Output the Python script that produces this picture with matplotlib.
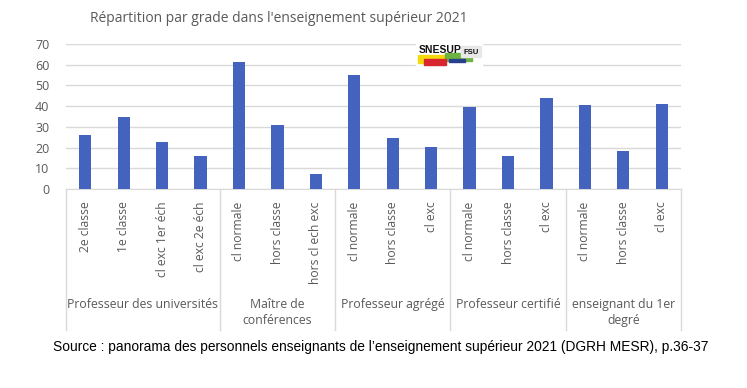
import matplotlib
matplotlib.use("Agg")
import matplotlib.pyplot as plt
import matplotlib.patches as patches
import matplotlib.transforms as mtransforms

# data
groups = ["Professeur des universités", "Maître de\nconférences", "Professeur agrégé",
          "Professeur certifié", "enseignant du 1er\ndegré"]
group_sizes = [4, 3, 3, 3, 3]
grades = ["2e classe", "1e classe", "cl exc 1er éch", "cl exc 2e éch",
          "cl normale", "hors classe", "hors cl ech exc",
          "cl normale", "hors classe", "cl exc",
          "cl normale", "hors classe", "cl exc",
          "cl normale", "hors classe", "cl exc"]
values = [26.1, 34.8, 22.7, 15.9,
          61.3, 30.9, 7.2,
          55.0, 24.6, 20.3,
          39.6, 15.9, 43.9,
          40.6, 18.3, 41.0]
yticks = [0, 10, 20, 30, 40, 50, 60, 70]

title = "Répartition par grade dans l'enseignement supérieur 2021"
source = ("Source : panorama des personnels enseignants de l\u2019enseignement "
          "supérieur 2021 (DGRH MESR), p.36-37")

W, H = 747, 388
fig = plt.figure(figsize=(W / 100, H / 100), dpi=100)
ax = fig.add_axes([66 / W, 1 - 189 / H, (681 - 66) / W, (189 - 44) / H])

txt = "#595959"
grid = "#d9d9d9"
font = ["Open Sans", "DejaVu Sans"]

x = list(range(len(values)))
ax.bar(x, values, width=0.32, color="#4363bf", zorder=3)
ax.set_xlim(-0.5, len(values) - 0.5)
ax.set_ylim(0, 70)
ax.set_yticks(yticks)
ax.yaxis.grid(True, color=grid, linewidth=1, zorder=0)
for s in ["top", "right", "left"]:
    ax.spines[s].set_visible(False)
ax.spines["bottom"].set_color(grid)
ax.tick_params(axis="y", length=0, pad=12, labelcolor=txt, labelsize=9)
ax.tick_params(axis="x", length=0, pad=9, labelcolor=txt, labelsize=8.7)
ax.set_xticks(x)
ax.set_xticklabels(grades, rotation=90, va="top", ha="center", family=font)
for lab in ax.get_yticklabels():
    lab.set_family(font)

# group separators and labels below the axis
trans = mtransforms.blended_transform_factory(ax.transData, ax.transAxes)
pos = -0.5
bounds = [pos]
for g, n in zip(groups, group_sizes):
    center = pos + n / 2
    ax.text(center, -0.75, g, transform=trans, ha="center", va="top",
            color=txt, fontsize=8.8, family=font, linespacing=1.3)
    pos += n
    bounds.append(pos)
for b in bounds:
    ax.plot([b, b], [0, -0.972], transform=trans, color=grid, lw=1, clip_on=False)

fig.text(90 / W, 1 - 19 / H, title, ha="left", va="center", color=txt,
         fontsize=10, family=font)
fig.text(53 / W, 1 - 347 / H, source, ha="left", va="center", color="black",
         fontsize=9.9, family=["Liberation Sans", "DejaVu Sans"])

# rough SNESUP FSU logo
def fbox(x0, y0, x1, y1, color):
    fig.patches.append(patches.Rectangle((x0 / W, 1 - y1 / H), (x1 - x0) / W, (y1 - y0) / H,
                                         transform=fig.transFigure, color=color, zorder=5))

fbox(416, 40, 482, 66, "white")
fbox(418, 55, 445, 63, "#f5d90a")
fbox(445, 53, 472, 61, "#6cb33f")
fbox(424, 59, 446, 65, "#d7262e")
fbox(449, 59, 465, 62, "#2b3f8f")
fbox(461, 46, 481, 57, "#e8e8e8")
fig.text(419 / W, 1 - 50 / H, "SNESUP", ha="left", va="center", fontsize=7.5,
         fontweight="bold", family=["Liberation Sans Narrow", "Liberation Sans"],
         color="#111111", zorder=6)
fig.text(463 / W, 1 - 52 / H, "FSU", ha="left", va="center", fontsize=5.5,
         fontweight="bold", family=["Liberation Sans Narrow", "Liberation Sans"],
         color="#111111", zorder=6)

fig.savefig("out.png", dpi=100)
